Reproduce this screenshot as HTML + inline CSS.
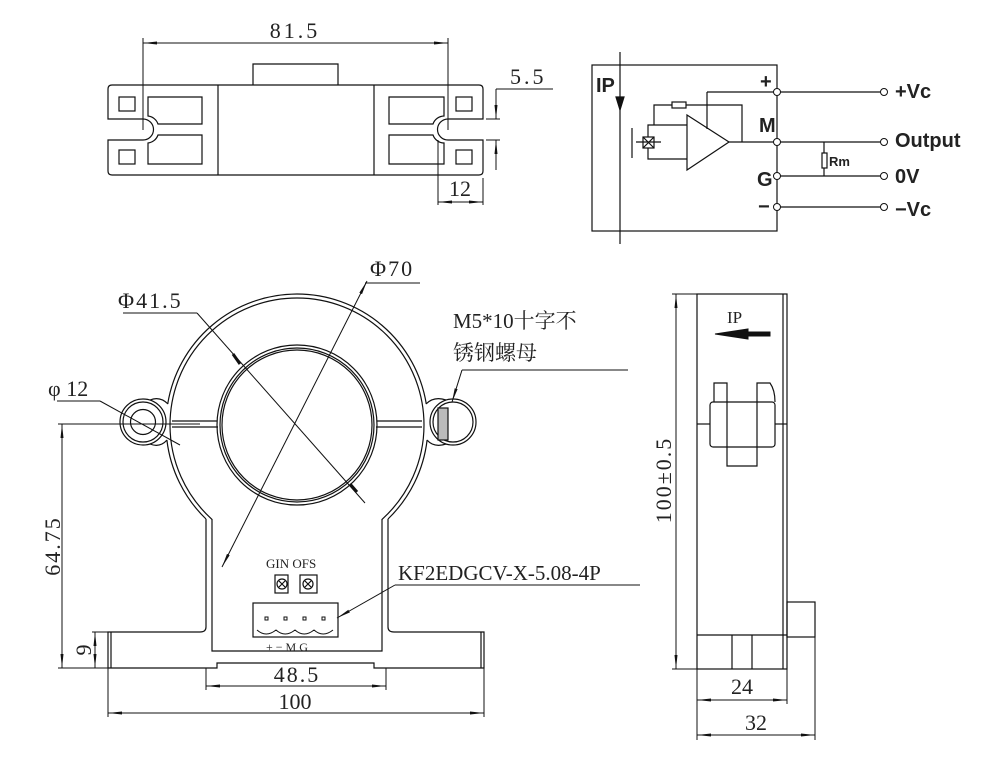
<!DOCTYPE html>
<html><head><meta charset="utf-8"><style>
html,body{margin:0;padding:0;background:#fff}
svg{display:block}
text{font-family:"Liberation Serif","Noto Serif CJK SC",serif;fill:#222}
.s text,text.s{font-family:"Liberation Sans","Noto Sans CJK SC",sans-serif;font-weight:bold}
</style></head><body>
<svg width="986" height="757" viewBox="0 0 986 757" xmlns="http://www.w3.org/2000/svg">
<defs>
<marker id="a" markerWidth="14" markerHeight="6" refX="14" refY="3" orient="auto" markerUnits="userSpaceOnUse"><path d="M0,1.5 L14,3 L0,4.5z" fill="#111"/></marker>
<marker id="b" markerWidth="14" markerHeight="6" refX="0" refY="3" orient="auto" markerUnits="userSpaceOnUse"><path d="M14,1.5 L0,3 L14,4.5z" fill="#111"/></marker>
</defs>
<g fill="none" stroke="#111" stroke-width="1.2">
<!-- TOP VIEW -->
<path d="M112,85 H479 Q483,85 483,89 V119 H448 A10.5,10.5 0 0 0 448,140 H483 V171 Q483,175 479,175 H112 Q108,175 108,171 V140 H143 A10.5,10.5 0 0 0 143,119 H108 V89 Q108,85 112,85Z"/>
<line x1="218" y1="85" x2="218" y2="175"/><line x1="374" y1="85" x2="374" y2="175"/>
<path d="M253,85 V64 H338 V85"/>
<rect x="119" y="97" width="16" height="14"/><rect x="119" y="150" width="16" height="14"/>
<rect x="456" y="97" width="16" height="14"/><rect x="456" y="150" width="16" height="14"/>
<path d="M148,97 H202 V124 H158 A12,12 0 0 0 148,116Z"/>
<path d="M148,164 H202 V135 H158 A12,12 0 0 1 148,143Z"/>
<path d="M444,97 H389 V124 H433 A12,12 0 0 1 444,116Z"/>
<path d="M444,164 H389 V135 H433 A12,12 0 0 0 444,143Z"/>
<g stroke-width="1">
<line x1="143" y1="38" x2="143" y2="130"/><line x1="448" y1="38" x2="448" y2="130"/>
<line x1="143" y1="43" x2="448" y2="43" marker-start="url(#b)" marker-end="url(#a)"/>
<line x1="486" y1="119" x2="500" y2="119"/><line x1="486" y1="140" x2="500" y2="140"/>
<line x1="496" y1="89" x2="553" y2="89"/>
<line x1="496" y1="89" x2="496" y2="119" marker-end="url(#a)"/>
<line x1="496" y1="170" x2="496" y2="140" marker-end="url(#a)"/>
<line x1="438" y1="140" x2="438" y2="205"/><line x1="483" y1="178" x2="483" y2="205"/>
<line x1="438" y1="202" x2="483" y2="202" marker-start="url(#b)" marker-end="url(#a)"/>
</g>
<!-- CIRCUIT -->
<rect x="592" y="65" width="185" height="166"/>
<line x1="620" y1="52" x2="620" y2="244"/>
<path d="M616,97 L624,97 L620,110Z" fill="#111"/>
<path d="M687,115 L729,142 L687,170Z"/>
<line x1="729" y1="142" x2="777" y2="142"/>
<path d="M742,142 V105 H654 V125"/>
<rect x="672" y="102" width="14" height="6" fill="#fff"/>
<path d="M707,92 V129"/><line x1="707" y1="92" x2="777" y2="92"/>
<path d="M687,125 H648 V159 H687"/>
<rect x="643" y="137" width="11" height="11" fill="#fff"/><path d="M643,137 L654,148 M654,137 L643,148"/>
<line x1="632" y1="128" x2="632" y2="158"/><line x1="636" y1="142" x2="661" y2="142"/>
<line x1="777" y1="92" x2="883" y2="92"/><line x1="777" y1="142" x2="883" y2="142"/>
<line x1="777" y1="176" x2="883" y2="176"/><line x1="777" y1="207" x2="883" y2="207"/>
<line x1="824" y1="142" x2="824" y2="176"/><rect x="822" y="153" width="5" height="15" fill="#fff"/>
<g fill="#fff" stroke-width="1"><circle cx="777" cy="92" r="3.5"/><circle cx="777" cy="142" r="3.5"/><circle cx="777" cy="176" r="3.5"/><circle cx="777" cy="207" r="3.5"/>
<circle cx="884" cy="92" r="3.5"/><circle cx="884" cy="142" r="3.5"/><circle cx="884" cy="176" r="3.5"/><circle cx="884" cy="207" r="3.5"/></g>
<!-- FRONT VIEW -->
<path d="M206,519 A131,131 0 0 1 166.9,440 M167.7,404 A131,131 0 0 1 426.3,404 M427.1,440 A131,131 0 0 1 388,519"/>
<path d="M212,519.4 A127,127 0 0 1 170,425 A127,127 0 0 1 424,425 A127,127 0 0 1 382,519.4"/>
<circle cx="297" cy="425" r="80"/><circle cx="297" cy="425" r="77"/><circle cx="297" cy="425" r="75"/>
<path d="M172,421 H217 M172,427 H218 M377,421 H422 M376,427 H422"/>
<circle cx="143" cy="422" r="23"/><circle cx="143" cy="422" r="20"/><circle cx="143" cy="422" r="12.5"/>
<path d="M168,404 Q160,396 150,400 M167,440 Q160,448 150,444"/>
<circle cx="453" cy="422" r="23"/><circle cx="453" cy="422" r="20"/>
<path d="M426,404 Q434,396 446,400 M427,440 Q434,448 446,444"/>
<rect x="438" y="408" width="10" height="32" fill="#bbb"/>
<path d="M206,519 V627 Q206,632 200,632 H108 V668 H217 V663 H374 V668 H484 V632 H394 Q388,632 388,627 V519"/>
<path d="M212,519 V651 H382 V519"/>
<line x1="111" y1="632" x2="111" y2="668"/><line x1="481" y1="632" x2="481" y2="668"/>
<rect x="275" y="575" width="13" height="18"/><rect x="300" y="575" width="17" height="18"/>
<circle cx="282" cy="584" r="5"/><circle cx="308" cy="584" r="5"/>
<path d="M279,581 L285,587 M285,581 L279,587 M305,581 L311,587 M311,581 L305,587"/>
<rect x="253" y="603" width="85" height="34"/>
<g stroke-width="1"><rect x="265" y="617" width="3" height="3"/><rect x="284" y="617" width="3" height="3"/><rect x="303" y="617" width="3" height="3"/><rect x="322" y="617" width="3" height="3"/>
<path d="M257,630 Q266,638 276,630 Q285,638 295,630 Q304,638 314,630 Q323,638 333,630"/></g>
<g stroke-width="1">
<line x1="365" y1="283" x2="420" y2="283"/><line x1="367" y1="281" x2="222" y2="567" marker-start="url(#b)" marker-end="url(#a)"/>
<line x1="123" y1="313" x2="197" y2="313"/><line x1="197" y1="313" x2="365" y2="503"/>
<path d="M233,354 L240,364" stroke-width="3"/><path d="M350,484 L357,492" stroke-width="3"/>
<line x1="57" y1="401" x2="100" y2="401"/><line x1="100" y1="401" x2="180" y2="445"/>
<line x1="462" y1="370" x2="628" y2="370"/><line x1="462" y1="370" x2="452" y2="402" marker-end="url(#a)"/>
<line x1="395" y1="585" x2="640" y2="585"/><line x1="395" y1="585" x2="337" y2="618" marker-end="url(#a)"/>
<line x1="58" y1="424" x2="200" y2="424"/><line x1="58" y1="668" x2="108" y2="668"/>
<line x1="62" y1="424" x2="62" y2="668" marker-start="url(#b)" marker-end="url(#a)"/>
<line x1="92" y1="632" x2="108" y2="632"/>
<line x1="95" y1="632" x2="95" y2="668" marker-start="url(#b)" marker-end="url(#a)"/>
<line x1="206" y1="668" x2="206" y2="690"/><line x1="386" y1="668" x2="386" y2="690"/>
<line x1="206" y1="686" x2="386" y2="686" marker-start="url(#b)" marker-end="url(#a)"/>
<line x1="108" y1="668" x2="108" y2="717"/><line x1="484" y1="668" x2="484" y2="717"/>
<line x1="108" y1="713" x2="484" y2="713" marker-start="url(#b)" marker-end="url(#a)"/>
</g>
<!-- SIDE VIEW -->
<rect x="697" y="294" width="90" height="375"/>
<line x1="783" y1="294" x2="783" y2="669"/>
<line x1="697" y1="635" x2="787" y2="635"/><line x1="732" y1="635" x2="732" y2="669"/><line x1="752" y1="635" x2="752" y2="669"/>
<rect x="787" y="602" width="28" height="35"/>
<rect x="710" y="402" width="65" height="45" rx="3"/>
<path d="M714,402 V383 H727 V447 M757,447 V383 H770 Q775,390 775,402"/>
<path d="M727,447 V466 H757 V447"/>
<line x1="697" y1="424" x2="710" y2="424"/><line x1="775" y1="424" x2="787" y2="424"/>
<path d="M770,332 H748 V329 L715,334 L748,339 V336 H770Z" fill="#111" stroke-width="1"/>
<g stroke-width="1">
<line x1="672" y1="294" x2="697" y2="294"/><line x1="672" y1="669" x2="697" y2="669"/>
<line x1="676" y1="294" x2="676" y2="669" marker-start="url(#b)" marker-end="url(#a)"/>
<line x1="697" y1="669" x2="697" y2="740"/><line x1="787" y1="669" x2="787" y2="704"/><line x1="815" y1="637" x2="815" y2="740"/>
<line x1="697" y1="700" x2="787" y2="700" marker-start="url(#b)" marker-end="url(#a)"/>
<line x1="697" y1="735" x2="815" y2="735" marker-start="url(#b)" marker-end="url(#a)"/>
</g>
</g>
<!-- TEXT -->
<g font-size="22">
<text x="295" y="38" text-anchor="middle" letter-spacing="3">81.5</text>
<text x="510" y="84" letter-spacing="3">5.5</text>
<text x="460" y="196" text-anchor="middle">12</text>
<text x="370" y="276" letter-spacing="2">Φ70</text>
<text x="118" y="308" letter-spacing="2">Φ41.5</text>
<text x="48" y="396">φ 12</text>
<text x="453" y="328" font-size="21">M5*10十字不</text>
<text x="453" y="360" font-size="21">锈钢螺母</text>
<text x="398" y="580" font-size="21">KF2EDGCV-X-5.08-4P</text>
<text x="297" y="682" text-anchor="middle" letter-spacing="2">48.5</text>
<text x="295" y="709" text-anchor="middle">100</text>
<text x="742" y="694" text-anchor="middle">24</text>
<text x="756" y="730" text-anchor="middle">32</text>
<text transform="translate(60,546) rotate(-90)" text-anchor="middle" letter-spacing="2">64.75</text>
<text transform="translate(91,650) rotate(-90)" text-anchor="middle">9</text>
<text transform="translate(671,480) rotate(-90)" text-anchor="middle" letter-spacing="2">100±0.5</text>
<text x="727" y="323" font-size="17">IP</text>
</g>
<text x="266" y="568" font-size="13">GIN OFS</text>
<text x="266" y="651" font-size="12">+ − M G</text>
<g class="s" font-size="20">
<text x="596" y="92">IP</text>
<text x="760" y="88">+</text>
<text x="759" y="132">M</text>
<text x="757" y="186">G</text>
<text x="758" y="213">−</text>
<text x="895" y="98">+Vc</text>
<text x="895" y="147">Output</text>
<text x="895" y="183">0V</text>
<text x="895" y="216">−Vc</text>
</g>
<text class="s" x="829" y="166" font-size="13">Rm</text>
</svg>
</body></html>
